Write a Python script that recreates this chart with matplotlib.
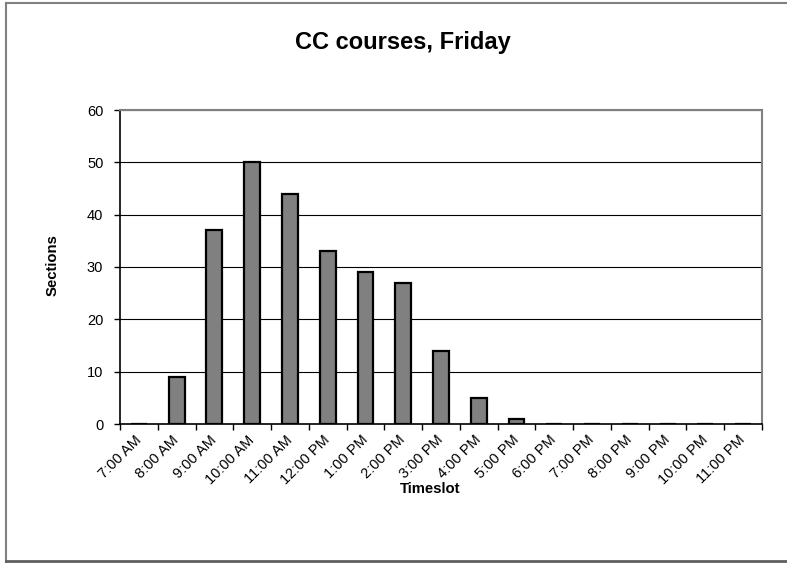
import matplotlib
matplotlib.use("Agg")
import matplotlib.pyplot as plt
from matplotlib.lines import Line2D
import numpy as np

timeslots = ["7:00 AM", "8:00 AM", "9:00 AM", "10:00 AM", "11:00 AM", "12:00 PM",
             "1:00 PM", "2:00 PM", "3:00 PM", "4:00 PM", "5:00 PM", "6:00 PM",
             "7:00 PM", "8:00 PM", "9:00 PM", "10:00 PM", "11:00 PM"]
sections = [0, 9, 37, 50, 44, 33, 29, 27, 14, 5, 1, 0, 0, 0, 0, 0, 0]
y_ticks = [0, 10, 20, 30, 40, 50, 60]

plt.rcParams["font.family"] = ["Liberation Sans", "DejaVu Sans"]

W, H = 787, 563
fig = plt.figure(figsize=(W / 100, H / 100), dpi=100)

# chart-area frame (open on the right side)
fc = "#808080"
fig.add_artist(Line2D([6 / W, 6 / W], [1 - 3 / H, 1 - 562 / H], color=fc, lw=1.5, transform=fig.transFigure))
fig.add_artist(Line2D([6 / W, 1], [1 - 3 / H, 1 - 3 / H], color=fc, lw=1.5, transform=fig.transFigure))
fig.add_artist(Line2D([6 / W, 1], [1 - 561 / H, 1 - 561 / H], color="#606060", lw=2, transform=fig.transFigure))

left, right, top, bottom = 120, 762, 110, 424
ax = fig.add_axes([left / W, 1 - bottom / H, (right - left) / W, (bottom - top) / H])

x = np.arange(len(timeslots))
ax.bar(x, sections, width=0.42, color="#808080", edgecolor="black", linewidth=1.6, zorder=3)

ax.set_xlim(-0.5, len(timeslots) - 0.5)
ax.set_ylim(0, 60)
ax.set_yticks(y_ticks)
ax.set_yticklabels([str(v) for v in y_ticks], fontsize=10.5)
ax.yaxis.grid(True, color="black", linewidth=0.8, zorder=0)
ax.set_axisbelow(True)

# category boundary ticks on x, labels centred on categories
ax.set_xticks(np.arange(-0.5, len(timeslots) + 0.5, 1))
ax.set_xticklabels([])
ax.set_xticks(x, minor=True)
ax.set_xticklabels(timeslots, minor=True, rotation=45, ha="right", va="center",
                   rotation_mode="anchor", fontsize=10.5)
ax.tick_params(axis="x", which="major", direction="out", length=4, width=1, color="black")
ax.tick_params(axis="x", which="minor", length=0, pad=10)
ax.tick_params(axis="y", direction="out", length=4, width=1, color="black", pad=8)

for side in ("top", "right"):
    ax.spines[side].set_color("#808080")
    ax.spines[side].set_linewidth(1.5)
for side in ("left", "bottom"):
    ax.spines[side].set_color("black")
    ax.spines[side].set_linewidth(1.2)

fig.text(403 / W, 1 - 43 / H, "CC courses, Friday", ha="center", va="center",
         fontsize=17, fontweight="bold")
fig.text(430 / W, 1 - 489 / H, "Timeslot", ha="center", va="center",
         fontsize=10.7, fontweight="bold")
fig.text(53 / W, 1 - 265 / H, "Sections", ha="center", va="center", rotation=90,
         fontsize=10.7, fontweight="bold")

fig.savefig("out.png", dpi=100)
